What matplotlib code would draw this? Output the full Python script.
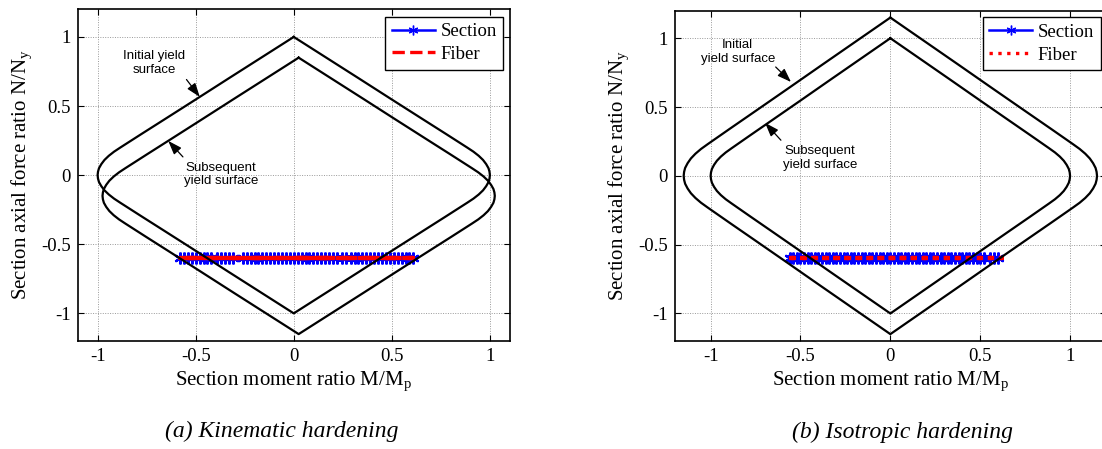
import matplotlib
matplotlib.use('Agg')
import matplotlib.pyplot as plt
from matplotlib.lines import Line2D
import numpy as np

plt.rcParams['font.family'] = 'Liberation Serif'
plt.rcParams['mathtext.fontset'] = 'custom'
plt.rcParams['mathtext.rm'] = 'Liberation Serif'
plt.rcParams['mathtext.it'] = 'Liberation Serif:italic'
plt.rcParams['axes.unicode_minus'] = False

# Initial yield surface, one quadrant (axial n, moment m)
quad_n = [1.00, 0.85, 0.70, 0.55, 0.40, 0.30, 0.24, 0.20, 0.17, 0.14,
          0.11, 0.08, 0.05, 0.025, 0.00]
quad_m = [0.00, 0.166, 0.332, 0.497, 0.663, 0.774, 0.840, 0.884, 0.916, 0.943,
          0.965, 0.981, 0.993, 0.998, 1.00]

# Subsequent surface: (a) centre moved (kinematic), (b) surface grown (isotropic)
kin_shift = (0.025, -0.15)
iso_scale = 1.15

# Load path at constant axial force
axial_level = -0.60
sec_a_m = [-0.58, -0.56, -0.54, -0.52, -0.50, -0.48, -0.46, -0.44, -0.42,
           -0.39, -0.37, -0.35, -0.33, -0.31,
           -0.26, -0.24, -0.22, -0.20, -0.18, -0.16, -0.14, -0.12, -0.10,
           -0.08, -0.06, -0.04, -0.02, 0.00, 0.02, 0.04, 0.06, 0.08, 0.10,
           0.12, 0.14, 0.16, 0.18, 0.20, 0.22,
           0.245, 0.265, 0.29, 0.31, 0.33, 0.35,
           0.37, 0.39, 0.41, 0.43, 0.45, 0.47, 0.49, 0.51, 0.53, 0.55,
           0.57, 0.59, 0.61]
fib_a_m = [0.00, 0.61, -0.58, 0.61, -0.58, 0.20]

sec_b_m = [-0.56, -0.54, -0.52, -0.50, -0.48, -0.46, -0.44, -0.42, -0.40,
           -0.38, -0.36, -0.34, -0.32, -0.30, -0.28, -0.26, -0.24, -0.22,
           -0.20, -0.18, -0.16, -0.14, -0.12, -0.10, -0.08, -0.06, -0.04,
           -0.02, 0.00, 0.02, 0.04, 0.06, 0.08, 0.10, 0.12, 0.14, 0.16,
           0.18, 0.20, 0.22, 0.24, 0.26, 0.28, 0.30, 0.32, 0.34, 0.36,
           0.38, 0.40, 0.42, 0.44, 0.46, 0.48, 0.50, 0.52, 0.555, 0.575, 0.60]
fib_b_m = [0.00, 0.62, -0.575, 0.62, -0.575, 0.10]

ticks = [-1, -0.5, 0, 0.5, 1]
tick_labels = ['-1', '-0.5', '0', '0.5', '1']


def full_surface(qm, qn):
    # mirror the quadrant into a closed curve
    qm = np.array(qm)
    qn = np.array(qn)
    m = np.concatenate([-qm, -qm[::-1][1:], qm[1:], qm[::-1][1:]])
    n = np.concatenate([qn, -qn[::-1][1:], -qn[1:], qn[::-1][1:]])
    return m, n


m0, n0 = full_surface(quad_m, quad_n)

W, H = 1102, 449
fig = plt.figure(figsize=(W / 100, H / 100), dpi=100)
ax_a = fig.add_axes([78 / W, 1 - 341 / H, (509.5 - 78) / W, (341 - 9.3) / H])
ax_b = fig.add_axes([674.7 / W, 1 - 341 / H, (1106 - 674.7) / W, (341 - 10.7) / H])

sans = 'Liberation Sans'
arrow = dict(arrowstyle='-|>,head_length=0.7,head_width=0.25', color='black',
             lw=0.9, shrinkA=0, shrinkB=0, mutation_scale=12)
note_size = 9.5


def style(ax, xlim):
    ax.set_xlim(xlim)
    ax.set_ylim(-1.2, 1.2)
    ax.set_xticks(ticks)
    ax.set_xticklabels(tick_labels)
    ax.set_yticks(ticks)
    ax.set_yticklabels(tick_labels)
    ax.tick_params(direction='in', top=True, right=True, length=4, width=0.8,
                   labelsize=13.5, pad=5)
    ax.grid(True, color='#999999', linestyle=(0, (1, 1.5)), linewidth=0.7)
    for s in ax.spines.values():
        s.set_linewidth(1.2)
    ax.set_xlabel('Section moment ratio M/M$_{\\mathregular{p}}$', fontsize=15, labelpad=3)
    ax.set_ylabel('Section axial force ratio N/N$_{\\mathregular{y}}$', fontsize=15, labelpad=5)


def section_line(ax, m):
    ax.plot(m, [axial_level] * len(m), color='blue', lw=1.8,
            marker=(6, 2, 0), markersize=8.5, markeredgewidth=1.6, zorder=3)


def add_legend(ax, fiber_style, anchor):
    handles = [Line2D([], [], color='blue', lw=1.8, marker=(6, 2, 0), markersize=7),
               Line2D([], [], color='red', lw=2.4, linestyle=fiber_style)]
    leg = ax.legend(handles, ['Section', 'Fiber'], loc='upper right',
                    bbox_to_anchor=anchor, borderaxespad=0, fontsize=13.5,
                    fancybox=False, framealpha=1, edgecolor='black', numpoints=1,
                    handlelength=2.3, handletextpad=0.3, borderpad=0.35,
                    labelspacing=0.3)
    leg.get_frame().set_linewidth(1.0)


# (a) kinematic hardening
ax = ax_a
style(ax, (-1.1, 1.1))
section_line(ax, sec_a_m)
ax.plot(fib_a_m, [axial_level] * len(fib_a_m), color='red', lw=3.0,
        linestyle='--', zorder=4)
ax.plot(m0, n0, color='black', lw=1.6, zorder=5)
ax.plot(m0 + kin_shift[0], n0 + kin_shift[1], color='black', lw=1.6, zorder=5)
ax.text(-0.712, 0.812, 'Initial yield\nsurface', fontsize=note_size, family=sans,
        ha='center', va='center', linespacing=1.2)
ax.annotate('', xy=(-0.479, 0.566), xytext=(-0.547, 0.692), arrowprops=arrow)
ax.text(-0.371, 0.005, 'Subsequent\nyield surface', fontsize=note_size, family=sans,
        ha='center', va='center', linespacing=1.2)
ax.annotate('', xy=(-0.64, 0.248), xytext=(-0.565, 0.132), arrowprops=arrow)
add_legend(ax, '--', (0.986, 0.978))

# (b) isotropic hardening
ax = ax_b
style(ax, (-1.2, 1.2))
section_line(ax, sec_b_m)
ax.plot(fib_b_m, [axial_level] * len(fib_b_m), color='red', lw=3.0,
        linestyle=':', zorder=4)
ax.plot(m0, n0, color='black', lw=1.6, zorder=5)
ax.plot(m0 * iso_scale, n0 * iso_scale, color='black', lw=1.6, zorder=5)
ax.text(-0.849, 0.9, 'Initial\nyield surface', fontsize=note_size, family=sans,
        ha='center', va='center', linespacing=1.2)
ax.annotate('', xy=(-0.553, 0.682), xytext=(-0.638, 0.791), arrowprops=arrow)
ax.text(-0.393, 0.131, 'Subsequent\nyield surface', fontsize=note_size, family=sans,
        ha='center', va='center', linespacing=1.2)
ax.annotate('', xy=(-0.697, 0.385), xytext=(-0.609, 0.259), arrowprops=arrow)
add_legend(ax, ':', (0.988, 0.98))

# captions
fig.text(282 / W, 1 - 431 / H, '(a) Kinematic hardening', fontsize=17,
         style='italic', ha='center', va='center')
fig.text(902 / W, 1 - 432 / H, '(b) Isotropic hardening', fontsize=17,
         style='italic', ha='center', va='center')

fig.savefig('out.png', dpi=100)
